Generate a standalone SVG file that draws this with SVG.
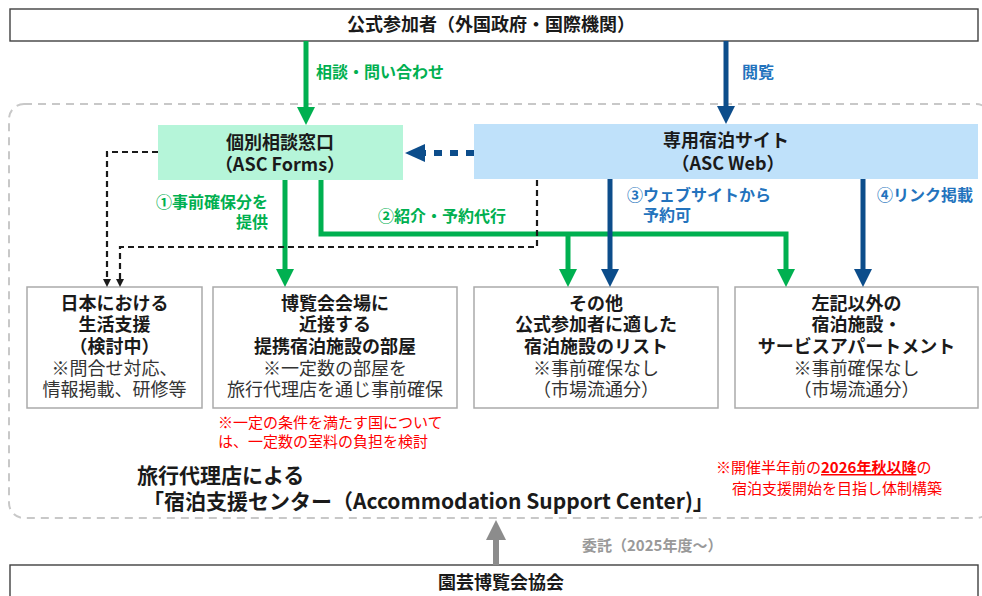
<svg xmlns="http://www.w3.org/2000/svg" width="982" height="596" viewBox="0 0 982 596">
<style>
text{font-family:"Noto Sans CJK JP","Noto Sans",sans-serif;}
.c{text-anchor:middle;}
.e{text-anchor:end;}
.tb{font-size:18px;font-weight:bold;fill:#1a1a1a;}
.tr{font-size:18px;font-weight:normal;fill:#333;}
.lg{font-size:16px;font-weight:bold;fill:#00b050;}
.lb{font-size:16px;font-weight:bold;fill:#2373bd;}
.red{font-size:15px;fill:#ff0000;}
.big{font-size:21px;font-weight:bold;fill:#1a1a1a;}
.gry{font-size:15px;font-weight:bold;fill:#999;}
.box{fill:#fff;stroke:#aaaaaa;stroke-width:1.5;}
.frame{fill:#fff;stroke:#404040;stroke-width:1.4;}
.g{fill:none;stroke:#00b050;stroke-width:5;}
.b{fill:none;stroke:#0c4d8b;stroke-width:5;}
.k{fill:none;stroke:#1a1a1a;stroke-width:2.2;stroke-dasharray:6 4;}
</style>
<defs>
<marker id="mg" viewBox="0 0 18 18" markerWidth="18" markerHeight="18" refX="6" refY="9" orient="auto" markerUnits="userSpaceOnUse"><path d="M0,0 L18,9 L0,18 z" fill="#00b050"/></marker>
<marker id="mb" viewBox="0 0 18 18" markerWidth="18" markerHeight="18" refX="6" refY="9" orient="auto" markerUnits="userSpaceOnUse"><path d="M0,0 L18,9 L0,18 z" fill="#0c4d8b"/></marker>
<marker id="mbd" viewBox="0 0 20 18" markerWidth="20" markerHeight="18" refX="6" refY="9" orient="auto" markerUnits="userSpaceOnUse"><path d="M0,0 L20,9 L0,18 z" fill="#0c4d8b"/></marker>
<marker id="mk" viewBox="0 0 8 8" markerWidth="8" markerHeight="8" refX="2" refY="4" orient="auto" markerUnits="userSpaceOnUse"><path d="M0,0 L8,4 L0,8 z" fill="#1a1a1a"/></marker>
<marker id="mgr" viewBox="0 0 20 20" markerWidth="20" markerHeight="20" refX="6" refY="10" orient="auto" markerUnits="userSpaceOnUse"><path d="M0,0 L20,10 L0,20 z" fill="#8c8c8c"/></marker>
</defs>
<rect width="982" height="596" fill="#fff"/>

<g id="center-frame">
<rect x="9" y="104" width="982" height="414" rx="15" fill="none" stroke="#c8c8c8" stroke-width="2" stroke-dasharray="8 6"/>
<text class="big" x="137" y="483">旅行代理店による</text>
<text class="big" x="143" y="509">「宿泊支援センター（Accommodation Support Center)」</text>
</g>

<g id="participants">
<rect class="frame" x="10" y="9" width="968" height="32"/>
<text class="tb c" x="491" y="31">公式参加者（外国政府・国際機関）</text>
</g>

<g id="asc-forms">
<rect x="158" y="125" width="245" height="55" fill="#b5f5d9"/>
<text class="tb c" x="280" y="149">個別相談窓口</text>
<text class="tb c" x="280" y="171">（ASC Forms）</text>
</g>

<g id="asc-web">
<rect x="474" y="124" width="504" height="55" fill="#bfe1fa"/>
<text class="tb c" x="726" y="147">専用宿泊サイト</text>
<text class="tb c" x="728" y="170">（ASC Web）</text>
</g>

<g id="life-support">
<rect class="box" x="27" y="287" width="175" height="121"/>
<text class="tb c" x="114.5" y="309.5">日本における</text>
<text class="tb c" x="114.5" y="331">生活支援</text>
<text class="tb c" x="114.5" y="352.5">（検討中）</text>
<text class="tr c" x="114.5" y="374.5">※問合せ対応、</text>
<text class="tr c" x="114.5" y="396">情報掲載、研修等</text>
</g>

<g id="partner-rooms">
<rect class="box" x="213" y="287" width="244" height="121"/>
<text class="tb c" x="335" y="309.5">博覧会会場に</text>
<text class="tb c" x="335" y="331">近接する</text>
<text class="tb c" x="335" y="352.5">提携宿泊施設の部屋</text>
<text class="tr c" x="335" y="374.5">※一定数の部屋を</text>
<text class="tr c" x="335" y="396">旅行代理店を通じ事前確保</text>
</g>

<g id="other-list">
<rect class="box" x="474" y="287" width="244" height="121"/>
<text class="tb c" x="596" y="309.5">その他</text>
<text class="tb c" x="596" y="331">公式参加者に適した</text>
<text class="tb c" x="596" y="352.5">宿泊施設のリスト</text>
<text class="tr c" x="596" y="374.5">※事前確保なし</text>
<text class="tr c" x="596" y="396">（市場流通分）</text>
</g>

<g id="other-facilities">
<rect class="box" x="735" y="287" width="243" height="121"/>
<text class="tb c" x="856.5" y="309.5">左記以外の</text>
<text class="tb c" x="856.5" y="331">宿泊施設・</text>
<text class="tb c" x="856.5" y="352.5">サービスアパートメント</text>
<text class="tr c" x="856.5" y="374.5">※事前確保なし</text>
<text class="tr c" x="856.5" y="396">（市場流通分）</text>
</g>

<g id="notes">
<text class="red" x="218" y="428">※一定の条件を満たす国について</text>
<text class="red" x="218" y="447">は、一定数の室料の負担を検討</text>
<text class="red" x="716" y="473">※開催半年前の<tspan font-weight="bold" text-decoration="underline">2026年秋以降</tspan>の</text>
<text class="red" x="732" y="494">宿泊支援開始を目指し体制構築</text>
</g>

<g id="association">
<rect class="frame" x="10" y="565" width="968" height="40"/>
<text class="tb c" x="501" y="589">園芸博覧会協会</text>
</g>

<g id="connectors">
<path class="g" d="M306,41 V113" marker-end="url(#mg)"/>
<path class="b" d="M726,41 V112" marker-end="url(#mb)"/>
<path d="M474,153 H419" fill="none" stroke="#0c4d8b" stroke-width="6" stroke-dasharray="8 8" marker-end="url(#mbd)"/>
<path class="g" d="M285,180 V275" marker-end="url(#mg)"/>
<path class="g" d="M321,180 V234 H786 V275" marker-end="url(#mg)"/>
<path class="g" d="M568,234 V275" marker-end="url(#mg)"/>
<path class="b" d="M610,179 V275" marker-end="url(#mb)"/>
<path class="b" d="M863,179 V275" marker-end="url(#mb)"/>
<path class="k" d="M158,152 H107 V281" marker-end="url(#mk)"/>
<path class="k" d="M537,180 V247 H120 V281" marker-end="url(#mk)"/>
<path d="M496,565 V534" fill="none" stroke="#8c8c8c" stroke-width="6" marker-end="url(#mgr)"/>
<text class="lg" x="316" y="78">相談・問い合わせ</text>
<text class="lb" x="742" y="78">閲覧</text>
<text class="lg e" x="268" y="208">①事前確保分を</text>
<text class="lg e" x="268" y="228">提供</text>
<text class="lg" x="378" y="222">②紹介・予約代行</text>
<text class="lb" x="627" y="201">③ウェブサイトから</text>
<text class="lb" x="643" y="221">予約可</text>
<text class="lb" x="877" y="201">④リンク掲載</text>
<text class="gry" x="582" y="551">委託（2025年度〜）</text>
</g>
</svg>
